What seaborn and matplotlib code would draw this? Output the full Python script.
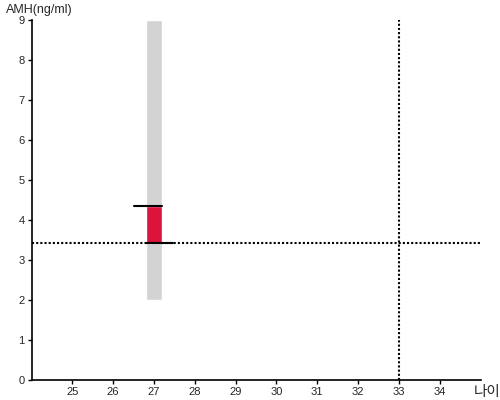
import numpy as np
import pandas as pd
import matplotlib
matplotlib.use('Agg')
import matplotlib.pyplot as plt
import seaborn as sns

# data
ages = [27]
range_low = [2.0]
range_high = [9.0]
amh_value = [4.35]
amh_ref = [3.42]
ref_age = 33
x_ticks = list(range(25, 35))
y_ticks = list(range(0, 10))

sns.set_style('ticks')
plt.rcParams['font.family'] = ['Liberation Sans', 'Noto Sans CJK KR', 'DejaVu Sans']

fig, ax = plt.subplots(figsize=(5, 4), dpi=100)
fig.subplots_adjust(left=0.063, right=0.961, top=0.95, bottom=0.05)

df = pd.DataFrame({'age': ages, 'low': range_low, 'high': range_high,
                   'value': amh_value, 'ref': amh_ref})

# gray range bar
ax.bar(df['age'], df['high'] - df['low'], bottom=df['low'], width=0.4,
       color='#d3d3d3', zorder=1)
# red bar between reference and value
ax.bar(df['age'], df['value'] - df['ref'], bottom=df['ref'], width=0.4,
       color='#dc143c', zorder=2)

# black markers
for _, r in df.iterrows():
    sns.lineplot(x=[r['age'] - 0.5, r['age'] + 0.2], y=[r['value']] * 2,
                 color='black', lw=1.5, ax=ax, zorder=3)
    sns.lineplot(x=[r['age'] - 0.2, r['age'] + 0.47], y=[r['ref']] * 2,
                 color='black', lw=1.5, ax=ax, zorder=3)

# dotted guide lines
ax.axhline(amh_ref[0], color='black', lw=1.5, ls=(0, (1, 1)), zorder=4)
ax.axvline(ref_age, color='black', lw=1.5, ls=(0, (1, 1)), zorder=4)

ax.set_xlim(24, 35)
ax.set_ylim(0, 9)
ax.set_xticks(x_ticks)
ax.set_yticks(y_ticks)
ax.tick_params(labelsize=8, length=3, width=1, color='black', pad=2)
for s in ['left', 'bottom']:
    ax.spines[s].set_linewidth(1.2)
    ax.spines[s].set_color('black')
sns.despine(ax=ax)
ax.set_xlabel('')
ax.set_ylabel('')

fig.text(0.012, 0.975, 'AMH(ng/ml)', fontsize=9, ha='left', va='center')
fig.text(0.948, 0.003, '나이', fontsize=10.5, ha='left', va='bottom')

fig.savefig('out.png', dpi=100)
